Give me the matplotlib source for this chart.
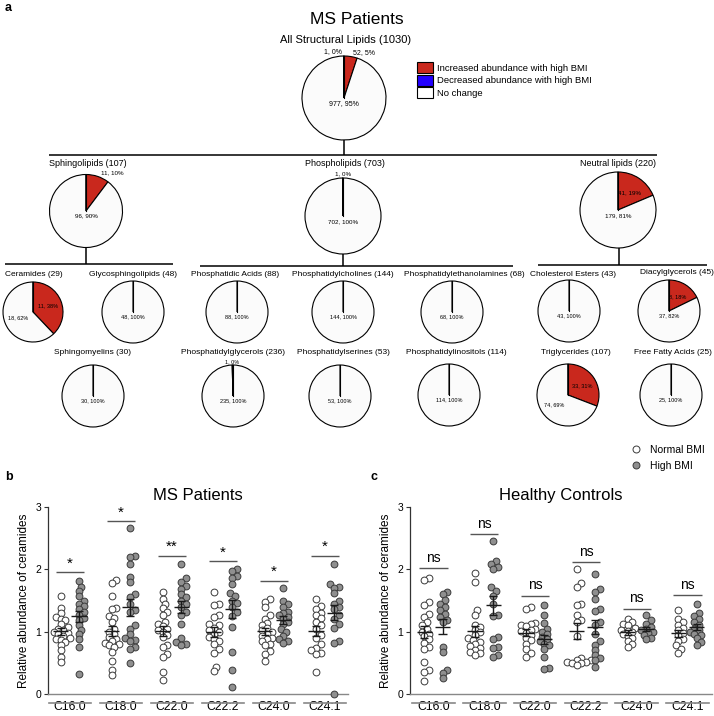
import matplotlib
matplotlib.use('Agg')
import matplotlib.pyplot as plt
from matplotlib.lines import Line2D
from matplotlib.patches import Patch
import numpy as np

plt.rcParams['font.family'] = ['Liberation Sans', 'DejaVu Sans']

# ---------------- panel a: lipid class pies ----------------
pie_names = ['All Structural Lipids', 'Sphingolipids', 'Phospholipids', 'Neutral lipids',
             'Ceramides', 'Glycosphingolipids', 'Sphingomyelins',
             'Phosphatidic Acids', 'Phosphatidylcholines', 'Phosphatidylethanolamines',
             'Phosphatidylglycerols', 'Phosphatidylserines', 'Phosphatidylinositols',
             'Cholesterol Esters', 'Diacylglycerols', 'Triglycerides', 'Free Fatty Acids']
pie_increased = [52, 11, 0, 41, 11, 0, 0, 0, 0, 0, 0, 0, 0, 0, 8, 33, 0]
pie_decreased = [1, 0, 1, 0, 0, 0, 0, 0, 0, 0, 1, 0, 0, 0, 0, 0, 0]
pie_nochange = [977, 96, 702, 179, 18, 48, 30, 88, 144, 68, 235, 53, 114, 43, 37, 74, 25]
legend_labels = ['Increased abundance with high BMI', 'Decreased abundance with high BMI', 'No change']

# ---------------- panels b, c: ceramide scatter ----------------
species = ['C16:0', 'C18:0', 'C22:0', 'C22:2', 'C24:0', 'C24:1']

ms_normal = [
    [1.57, 1.38, 1.30, 1.24, 1.21, 1.18, 1.12, 1.08, 1.05, 1.02, 1.00, 0.98, 0.96, 0.93, 0.90, 0.88, 0.86, 0.84, 0.78, 0.70, 0.60, 0.52],
    [1.83, 1.78, 1.58, 1.38, 1.36, 1.25, 1.22, 1.15, 1.05, 1.00, 0.96, 0.92, 0.88, 0.85, 0.82, 0.80, 0.78, 0.75, 0.68, 0.53, 0.38, 0.30],
    [1.63, 1.52, 1.45, 1.38, 1.31, 1.26, 1.16, 1.12, 1.09, 1.05, 1.02, 0.99, 0.95, 0.91, 0.78, 0.75, 0.64, 0.60, 0.35, 0.22],
    [1.64, 1.45, 1.43, 1.27, 1.24, 1.12, 1.10, 1.06, 1.02, 0.99, 0.96, 0.92, 0.88, 0.85, 0.80, 0.72, 0.66, 0.44, 0.37],
    [1.52, 1.47, 1.39, 1.26, 1.21, 1.14, 1.10, 1.06, 1.02, 0.99, 0.96, 0.93, 0.90, 0.88, 0.85, 0.80, 0.78, 0.69, 0.64, 0.53],
    [1.52, 1.41, 1.36, 1.30, 1.26, 1.22, 1.16, 1.10, 1.05, 0.95, 0.90, 0.80, 0.74, 0.70, 0.66, 0.64, 0.35],
]
ms_high = [
    [1.82, 1.72, 1.65, 1.57, 1.50, 1.45, 1.41, 1.37, 1.31, 1.27, 1.22, 1.18, 1.10, 1.03, 0.96, 0.88, 0.75, 0.32],
    [2.66, 2.21, 2.19, 2.08, 1.87, 1.79, 1.60, 1.56, 1.45, 1.35, 1.31, 1.10, 1.05, 0.97, 0.90, 0.87, 0.85, 0.75, 0.72, 0.50],
    [2.09, 1.86, 1.80, 1.74, 1.69, 1.60, 1.55, 1.49, 1.44, 1.39, 1.31, 1.26, 1.12, 0.90, 0.84, 0.80, 0.78],
    [2.00, 1.97, 1.90, 1.86, 1.77, 1.62, 1.57, 1.50, 1.46, 1.40, 1.31, 1.25, 1.07, 0.67, 0.38, 0.12],
    [1.70, 1.49, 1.45, 1.39, 1.32, 1.30, 1.27, 1.24, 1.21, 1.15, 1.12, 1.05, 1.00, 0.93, 0.88, 0.85, 0.82],
    [2.08, 1.76, 1.72, 1.70, 1.62, 1.49, 1.44, 1.40, 1.36, 1.26, 1.20, 1.12, 1.06, 0.85, 0.82, 0.00],
]
ms_sig_y = [1.95, 2.77, 2.22, 2.13, 1.82, 2.22]
ms_sig = ['*', '*', '**', '*', '*', '*']

hc_normal = [
    [1.86, 1.83, 1.48, 1.42, 1.28, 1.24, 1.15, 1.10, 1.05, 1.00, 0.96, 0.93, 0.88, 0.82, 0.76, 0.72, 0.51, 0.39, 0.36, 0.21],
    [1.94, 1.80, 1.34, 1.27, 1.11, 1.07, 1.03, 0.99, 0.94, 0.90, 0.87, 0.84, 0.80, 0.77, 0.74, 0.71, 0.68, 0.65, 0.62],
    [1.39, 1.36, 1.14, 1.12, 1.10, 1.09, 1.05, 1.03, 1.01, 0.98, 0.94, 0.90, 0.86, 0.80, 0.72, 0.65, 0.60],
    [2.01, 1.78, 1.72, 1.45, 1.42, 1.27, 1.18, 1.15, 0.93, 0.58, 0.55, 0.54, 0.52, 0.51, 0.50, 0.49, 0.47],
    [1.21, 1.16, 1.12, 1.10, 1.06, 1.03, 1.01, 0.99, 0.96, 0.93, 0.90, 0.85, 0.80, 0.75],
    [1.35, 1.21, 1.15, 1.10, 1.06, 1.02, 0.98, 0.94, 0.89, 0.85, 0.78, 0.72, 0.65],
]
hc_high = [
    [1.63, 1.60, 1.51, 1.45, 1.40, 1.34, 1.28, 1.23, 1.18, 1.16, 0.76, 0.68, 0.39, 0.33, 0.25],
    [2.45, 2.14, 2.08, 2.04, 2.01, 1.71, 1.65, 1.58, 1.44, 1.27, 1.25, 0.92, 0.88, 0.76, 0.74, 0.62, 0.60],
    [1.42, 1.26, 1.14, 1.05, 1.00, 0.96, 0.92, 0.88, 0.85, 0.81, 0.78, 0.72, 0.60, 0.42, 0.40],
    [1.93, 1.68, 1.63, 1.53, 1.36, 1.33, 1.16, 1.10, 0.96, 0.85, 0.79, 0.70, 0.62, 0.58, 0.54, 0.44],
    [1.26, 1.19, 1.13, 1.08, 1.05, 1.02, 1.00, 0.98, 0.95, 0.90, 0.88],
    [1.45, 1.30, 1.25, 1.20, 1.15, 1.10, 1.05, 1.02, 1.00, 0.97, 0.94, 0.90, 0.84, 0.79],
]
hc_sig_y = [2.02, 2.57, 1.58, 2.12, 1.37, 1.59]
hc_sig = ['ns'] * 6

RED = '#c9281d'
BLUE = '#2200ff'
WHITE = '#fbfbfb'
GREY = '#8f8f8f'

W, H = 714, 716
fig = plt.figure(figsize=(W / 100, H / 100), dpi=100)

# pie layout in pixels: centre x, centre y, radius, title x, title y, title size, value size
pie_layout = [
    (344, 98, 42, 346, 40, 8, 5),
    (86, 211, 36.5, 88, 164, 6.5, 4.5),
    (343, 216, 38, 345, 164, 6.5, 4.5),
    (618, 210, 38, 618, 164, 6.5, 4.5),
    (33, 312, 30, 34, 274, 6, 4),
    (133, 312, 31, 133, 274, 6, 4),
    (93, 396, 31, 93, 353, 6, 4),
    (237, 312, 31, 235, 275, 6, 4),
    (343, 312, 31, 343, 274, 6, 4),
    (452, 312, 31, 464, 274, 6, 4),
    (233, 396, 31, 233, 353, 6, 4),
    (340, 396, 31, 343, 353, 6, 4),
    (449, 395, 31, 456, 353, 6, 4),
    (569, 311, 31, 573, 274, 6, 4),
    (669, 311, 31, 677, 273, 6, 4),
    (568, 395, 31, 576, 352, 6, 4),
    (671, 395, 31, 673, 352, 6, 4),
]
tree_lines = [((344, 140), (344, 155)), ((49, 155), (657, 155)),
              ((86, 248), (86, 264)), ((5, 264), (173, 264)),
              ((343, 254), (343, 266)), ((200, 266), (513, 266)),
              ((619, 248), (619, 265)), ((538, 265), (707, 265))]

ax0 = fig.add_axes([0, 0, 1, 1])


def draw_pie(ax, inc, dec, nc, layout, name):
    cx, cy, r, tx, ty, tfs, vfs = layout
    vals = [inc, nc, dec]
    total = sum(vals)
    # y axis is inverted, so counterclockwise from -90 runs clockwise from 12 o'clock
    wedges, _ = ax.pie(vals, colors=[RED, WHITE, BLUE], center=(cx, cy), radius=r,
                       startangle=-90, counterclock=True,
                       wedgeprops=dict(edgecolor='black', linewidth=0.8))
    ax.plot([cx, cx], [cy, cy - r], color='black', lw=0.8)
    ax.text(tx, ty, f'{name} ({total})', ha='center', va='center', fontsize=tfs)
    nonzero = [v for v in vals if v > 0]
    outside = [v for v in vals if 0 < v / total < 0.12]
    for w, v in zip(wedges, vals):
        if v == 0:
            continue
        frac = v / total
        pct = int(round(100 * frac))
        lab = f'{v}, {pct}%'
        mid = np.deg2rad((w.theta1 + w.theta2) / 2)
        c, s = np.cos(mid), np.sin(mid)
        if len(nonzero) == 1 or frac >= 0.75:
            ax.text(cx, cy + 0.14 * r, lab, ha='center', va='center', fontsize=vfs)
        elif frac >= 0.12:
            ax.text(cx + 0.55 * r * c, cy + 0.55 * r * s, lab, ha='center', va='center', fontsize=vfs)
        else:
            if len(outside) == 1 and abs(c) < 0.05:
                ha = 'center'
            else:
                ha = 'left' if c > 0.01 else 'right'
            ax.text(cx + 1.1 * r * c + (2 if ha == 'left' else -2 if ha == 'right' else 0),
                    cy + 1.1 * r * s, lab, ha=ha, va='center', fontsize=vfs)


for i, name in enumerate(pie_names):
    draw_pie(ax0, pie_increased[i], pie_decreased[i], pie_nochange[i], pie_layout[i], name)

for (x1, y1), (x2, y2) in tree_lines:
    ax0.plot([x1, x2], [y1, y2], color='black', lw=1.1, solid_capstyle='butt')

ax0.set_xlim(0, W)
ax0.set_ylim(H, 0)
ax0.set_aspect('auto')
ax0.axis('off')

fig.text(357 / W, 1 - 20 / H, 'MS Patients', ha='center', va='center', fontsize=12.5)

pie_handles = [Patch(facecolor=RED, edgecolor='black', lw=0.8),
               Patch(facecolor=BLUE, edgecolor='black', lw=0.8),
               Patch(facecolor='white', edgecolor='black', lw=0.8)]
fig.legend(pie_handles, legend_labels, loc='upper left', bbox_to_anchor=(417 / W, 1 - 62 / H),
           frameon=False, fontsize=6.8, handlelength=1.7, handleheight=1.45,
           handletextpad=0.45, labelspacing=0.15, borderpad=0, borderaxespad=0)


# ---------------- scatter panels ----------------
def swarm(vals, ux, uy, d=4.7):
    vals = np.asarray(vals, float)
    step = d * 0.5
    cands = [0.0]
    for n in range(1, 40):
        cands += [n * step, -n * step]
    px, py = [], []
    off = np.zeros(len(vals))
    for idx in np.argsort(vals):
        y = vals[idx] * uy
        for x in cands:
            if all((x - a) ** 2 + (y - b) ** 2 >= d * d for a, b in zip(px, py)):
                break
        px.append(x)
        py.append(y)
        off[idx] = x / ux
    return off


AX_TOP, AX_BOT = 507, 694
AX_H = AX_BOT - AX_TOP


def scatter_panel(ax, normal, high, sig_y, sig, title, xlim):
    ax_w_px = ax.get_position().width * W
    ux = ax_w_px / (xlim[1] - xlim[0])
    uy = AX_H / 3.0
    for i in range(len(species)):
        for vals, face, dx in [(normal[i], 'white', -0.18), (high[i], GREY, 0.18)]:
            v = np.asarray(vals)
            xs = i + dx + swarm(v, ux, uy)
            ax.scatter(xs, v, s=24, facecolor=face, edgecolor='#3a3a3a', linewidth=0.7,
                       zorder=3, clip_on=False)
            m = v.mean()
            se = v.std(ddof=1) / np.sqrt(len(v))
            xc = i + dx
            ax.hlines(m, xc - 0.15, xc + 0.15, color='#1a1a1a', lw=1.0, zorder=4)
            ax.vlines(xc, m - se, m + se, color='#1a1a1a', lw=1.0, zorder=4)
            ax.hlines([m - se, m + se], xc - 0.08, xc + 0.08, color='#1a1a1a', lw=1.0, zorder=4)
        ax.hlines(sig_y[i], i - 0.28, i + 0.28, color='#555555', lw=1.0)
        if sig[i] == 'ns':
            ax.text(i, sig_y[i] + 0.05, sig[i], ha='center', va='bottom', fontsize=10)
        else:
            ax.text(i, sig_y[i] + 0.03, sig[i], ha='center', va='bottom', fontsize=11)
        ax.plot([i - 0.42, i + 0.42], [-9 / AX_H, -9 / AX_H], transform=ax.get_xaxis_transform(),
                color='#888888', lw=1.2, clip_on=False)
    ax.set_xlim(*xlim)
    ax.set_ylim(0, 3)
    ax.set_yticks([0, 1, 2, 3])
    ax.set_xticks(range(len(species)))
    ax.set_xticklabels(species, fontsize=8.8)
    ax.tick_params(axis='x', length=0, pad=5)
    ax.tick_params(axis='y', length=3, width=0.8, labelsize=7.5, pad=2, color='#333333')
    for sp in ['top', 'right']:
        ax.spines[sp].set_visible(False)
    ax.spines['left'].set_color('#333333')
    ax.spines['left'].set_linewidth(0.9)
    ax.spines['bottom'].set_color('#888888')
    ax.spines['bottom'].set_linewidth(1.0)
    ax.set_ylabel('Relative abundance of ceramides', fontsize=8.5, labelpad=4)
    ax.set_title(title, fontsize=12, pad=5)


axb = fig.add_axes([48 / W, 1 - AX_BOT / H, 300 / W, AX_H / H])
scatter_panel(axb, ms_normal, ms_high, ms_sig_y, ms_sig, 'MS Patients', (-0.43, 5.45))
axc = fig.add_axes([410 / W, 1 - AX_BOT / H, 302 / W, AX_H / H])
scatter_panel(axc, hc_normal, hc_high, hc_sig_y, hc_sig, 'Healthy Controls', (-0.46, 5.48))

bmi_handles = [Line2D([], [], ls='', marker='o', ms=5, mfc='white', mec='#3a3a3a', mew=0.7),
               Line2D([], [], ls='', marker='o', ms=5, mfc=GREY, mec='#3a3a3a', mew=0.7)]
fig.legend(bmi_handles, ['Normal BMI', 'High BMI'], loc='upper left',
           bbox_to_anchor=(631 / W, 1 - 445 / H), frameon=False, fontsize=7.5,
           handlelength=1.0, handletextpad=0.8, labelspacing=0.55, borderpad=0, borderaxespad=0)

for lab, x, y in [('a', 5, 8), ('b', 5, 477), ('c', 370, 477)]:
    fig.text(x / W, 1 - y / H, lab, fontsize=9, fontweight='bold', ha='left', va='center')

fig.savefig('out.png', dpi=100)
